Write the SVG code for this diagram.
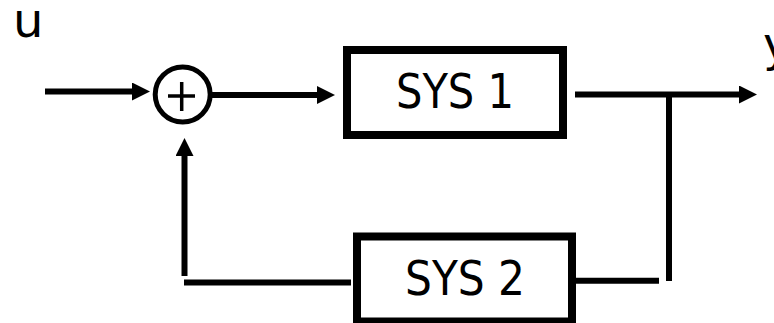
<svg xmlns="http://www.w3.org/2000/svg" width="774" height="323" viewBox="0 0 774 323">
  <style>
    .wire { stroke: #000; stroke-width: 6; fill: none; stroke-linecap: butt; }
    .box { fill: #fff; stroke: #000; stroke-width: 8; }
    .sum { fill: #fff; stroke: #000; stroke-width: 5; }
    .plus { stroke: #000; stroke-width: 3.5; }
    .lbl { font-family: "DejaVu Sans Condensed", "DejaVu Sans", Verdana, sans-serif; font-size: 48px; fill: #000; }
    .sig { font-family: "DejaVu Sans", Verdana, sans-serif; font-size: 48px; fill: #000; }
  </style>
  <defs>
    <!-- arrowhead placed at the end of a wire; the wire stops at the head's base -->
    <marker id="head" markerUnits="userSpaceOnUse" markerWidth="18" markerHeight="18" refX="0" refY="9" orient="auto">
      <path d="M0,0 L18,9 L0,18 Z" fill="#000"/>
    </marker>
  </defs>

  <rect width="774" height="323" fill="#fff"/>

  <g id="connectors">
    <!-- input u into the summing junction -->
    <line class="wire" x1="45" y1="91.5" x2="132" y2="91.5" marker-end="url(#head)"/>
    <!-- junction to SYS 1 -->
    <line class="wire" x1="212" y1="95" x2="317" y2="95" marker-end="url(#head)"/>
    <!-- SYS 1 to output y -->
    <line class="wire" x1="575" y1="94.5" x2="739" y2="94.5" marker-end="url(#head)"/>
    <!-- pick-off down to the feedback path -->
    <line class="wire" x1="669" y1="94.5" x2="669" y2="281"/>
    <!-- into SYS 2 from the right -->
    <line class="wire" x1="576" y1="280.7" x2="659" y2="280.7"/>
    <!-- out of SYS 2 to the left -->
    <line class="wire" x1="184" y1="282.5" x2="351" y2="282.5"/>
    <!-- back up into the junction -->
    <line class="wire" x1="184.5" y1="276" x2="184.5" y2="156" marker-end="url(#head)"/>
  </g>

  <g id="sum">
    <circle class="sum" cx="182.7" cy="94.5" r="27.5"/>
    <line class="plus" x1="168" y1="96" x2="195" y2="96"/>
    <line class="plus" x1="181.7" y1="82" x2="181.7" y2="111"/>
  </g>

  <g id="sys1">
    <rect class="box" x="347" y="50" width="216" height="85"/>
    <text class="lbl" x="455" y="108" text-anchor="middle" textLength="118" lengthAdjust="spacingAndGlyphs">SYS 1</text>
  </g>

  <g id="sys2">
    <rect class="box" x="357" y="236.5" width="215" height="85"/>
    <text class="lbl" x="465" y="295" text-anchor="middle" textLength="120" lengthAdjust="spacingAndGlyphs">SYS 2</text>
  </g>

  <g id="input-label">
    <text class="sig" x="13" y="37">u</text>
  </g>
  <g id="output-label">
    <text class="sig" x="763" y="61">y</text>
  </g>
</svg>
